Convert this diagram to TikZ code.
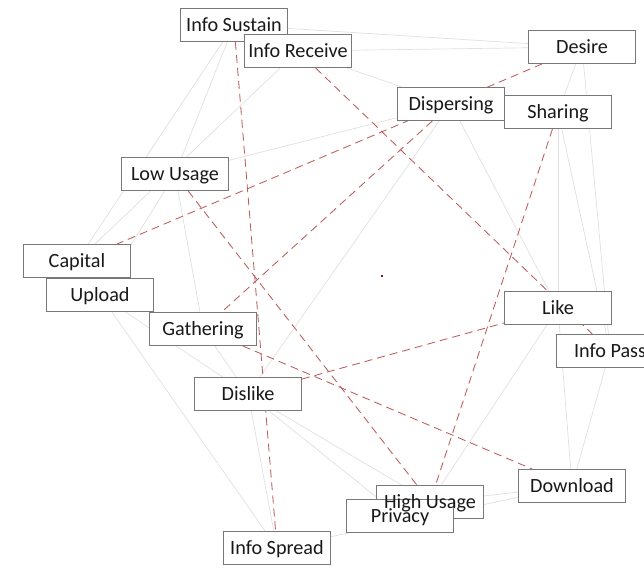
\documentclass[tikz,border=0pt]{standalone}
\usepackage{fontspec}
\setmainfont{Carlito}
\usetikzlibrary{backgrounds}
\definecolor{boxline}{RGB}{120,120,120}
\definecolor{faint}{RGB}{224,224,224}
\definecolor{reddash}{RGB}{188,92,92}
\definecolor{dotred}{RGB}{140,20,20}
\definecolor{txt}{RGB}{25,25,25}
\tikzset{
  box/.style={draw=boxline, line width=0.9pt, fill=white, rectangle,
    minimum width=107pt, minimum height=33pt, inner sep=0pt},
  lbl/.style={inner sep=0pt, text height=13pt, text depth=0pt, text=txt,
    font=\fontsize{20.2}{24}\selectfont},
  weak/.style={draw=faint, line width=0.7pt},
  strong/.style={draw=reddash, line width=0.85pt, dash pattern=on 8pt off 5pt},
}
\begin{document}
\begin{tikzpicture}[x=1pt,y=-1pt]
\useasboundingbox (0,0) rectangle (644,568);
\clip (0,0) rectangle (644,568);
% boxes
\node[box] (sus) at (234,25) {};
\node[box] (rec) at (298,51) {};
\node[box] (des) at (582,47) {};
\node[box] (dis) at (451,104) {};
\node[box] (sha) at (558,112) {};
\node[box] (low) at (175,174) {};
\node[box] (cap) at (77,261) {};
\node[box] (ups) at (100,295) {};
\node[box] (gat) at (203,329) {};
\node[box] (like) at (558,308) {};
\node[box] (pas) at (610,351) {};
\node[box] (dsl) at (248,394) {};
\node[box] (dow) at (572,486) {};
\node[box] (hu) at (430,502) {};
\node[box] (pri) at (400,516) {};
\node[box] (spr) at (277,548) {};
\node[fill=dotred, inner sep=0pt, minimum size=2.6pt] (dot) at (382,276) {};
% labels
\node[lbl] at (sus) {Info Sustain};
\node[lbl] at (rec) {Info Receive};
\node[lbl] at (des) {Desire};
\node[lbl] at (dis) {Dispersing};
\node[lbl] at (sha) {Sharing};
\node[lbl] at (low) {Low Usage};
\node[lbl] at (cap) {Capital};
\node[lbl] at (ups) {Upload};
\node[lbl] at (gat) {Gathering};
\node[lbl] at (like) {Like};
\node[lbl] at (pas) {Info Pass};
\node[lbl] at (dsl) {Dislike};
\node[lbl] at (dow) {Download};
\node[lbl] at (hu) {High Usage};
\node[lbl] at (pri) {Privacy};
\node[lbl] at (spr) {Info Spread};
\begin{scope}[on background layer]
  % faint connectors
  \draw[weak] (sus) -- (cap);
  \draw[weak] (sus) -- (low);
  \draw[weak] (sus) -- (des);
  \draw[weak] (rec) -- (des);
  \draw[weak] (rec) -- (dis);
  \draw[weak] (rec) -- (cap);
  \draw[weak] (low) -- (dis);
  \draw[weak] (low) -- (ups);
  \draw[weak] (low) -- (gat);
  \draw[weak] (dis) -- (dsl);
  \draw[weak] (dis) -- (like);
  \draw[weak] (des) -- (sha);
  \draw[weak] (des) -- (pas);
  \draw[weak] (sha) -- (like);
  \draw[weak] (sha) -- (pas);
  \draw[weak] (like) -- (hu);
  \draw[weak] (like) -- (dow);
  \draw[weak] (pas) -- (dow);
  \draw[weak] (ups) -- (spr);
  \draw[weak] (ups) -- (dsl);
  \draw[weak] (gat) -- (dsl);
  \draw[weak] (dsl) -- (spr);
  \draw[weak] (dsl) -- (pri);
  \draw[weak] (dsl) -- (hu);
  \draw[weak] (hu) -- (dow);
  \draw[weak] (spr) -- (dow);
  % dashed red connectors
  \draw[strong] (sus) -- (spr);
  \draw[strong] (rec) -- (pas);
  \draw[strong] (des) -- (cap);
  \draw[strong] (dis) -- (gat);
  \draw[strong] (sha) -- (hu);
  \draw[strong] (low) -- (hu);
  \draw[strong] (gat) -- (dow);
  \draw[strong] (dsl) -- (like);
\end{scope}
\end{tikzpicture}
\end{document}
